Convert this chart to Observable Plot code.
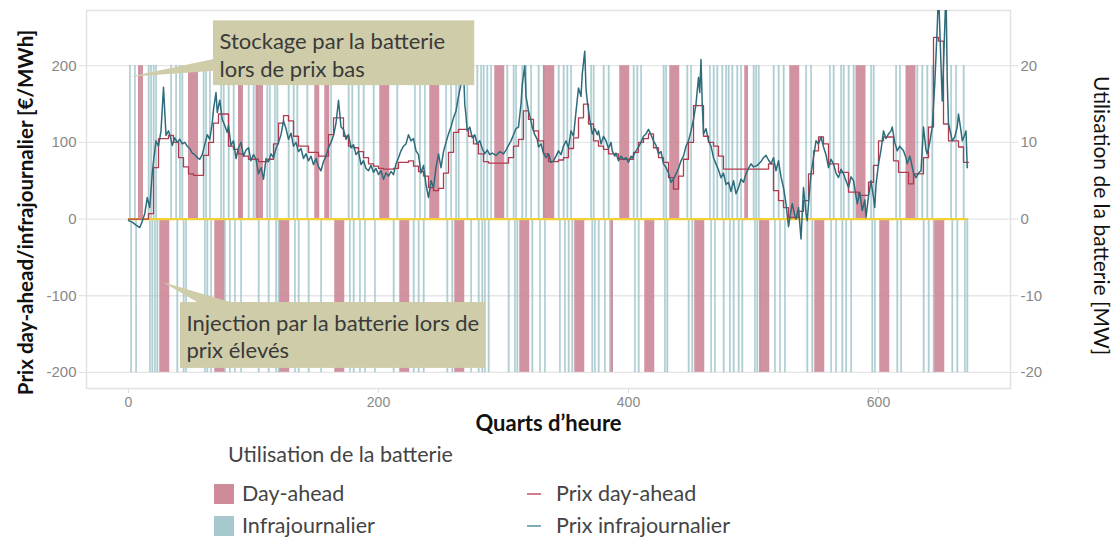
<!DOCTYPE html>
<html>
<head>
<meta charset="utf-8">
<script src="https://cdn.jsdelivr.net/npm/d3@7"></script>
<script src="https://cdn.jsdelivr.net/npm/@observablehq/plot@0.6"></script>
<style>
  html, body { margin: 0; padding: 0; background: #ffffff; }
  #wrap { position: relative; width: 1118px; height: 543px; overflow: hidden; font-family: Lato, "Open Sans", sans-serif; }
  #wrap svg { position: absolute; left: 0; top: 0; }
  .lg { position: absolute; color: #444; font-size: 21.5px; white-space: nowrap; line-height: 1; }
  .sw { position: absolute; width: 20px; height: 20px; }
  .ln { position: absolute; width: 14px; height: 2px; }
</style>
</head>
<body>
<div id="wrap"></div>
<script>
// ---------------- data ----------------
const nQuarters = 672;
const quarterTicks = [0, 200, 400, 600];
const priceTicks = [-200, -100, 0, 100, 200];
const mwTicks = [-20, -10, 0, 10, 20];
const mwToPrice = 10;          // secondary axis: 20 MW shares the 200 €/MWh gridline
const batteryMW = 20;

// Day-ahead price, hourly (€/MWh), 168 hours
const daPrice = [
  0,0,0,0,7,67,105,105,109,100,80,68,59,57,57,83,100,125,137,137,95,91,85,82,
  78,78,75,75,78,98,125,135,128,108,95,95,87,87,82,82,110,132,132,108,95,93,88,80,
  72,69,66,65,65,66,74,74,76,69,62,56,41,37,40,60,87,113,117,117,108,98,85,75,
  73,73,73,73,80,95,104,141,130,115,102,85,75,75,77,80,92,106,132,150,124,102,95,91,
  85,85,78,78,78,87,100,105,111,93,80,74,54,39,56,78,100,148,148,108,100,95,82,65,
  65,65,65,65,65,65,65,65,72,37,24,15,2,2,10,24,59,89,107,98,72,72,61,61,
  35,35,31,31,48,70,102,107,107,76,61,61,46,59,59,80,120,237,232,124,102,102,94,74
];

// Intraday price (€/MWh), read at quarter-hour positions
const idQ = [
  0,3,6,9,11,13,15,17,19,20,22,24,26,28,30,32,34,35,37,39,41,43,45,47,49,51,53,55,57,59,
  61,63,65,67,68,70,71,73,75,77,79,80,82,84,86,88,90,92,94,96,98,100,102,104,106,108,110,112,114,116,
  118,120,122,124,126,128,130,132,134,136,138,140,142,144,146,148,150,152,154,156,158,160,162,164,166,168,170,172,174,176,
  178,180,182,184,186,188,190,192,194,196,198,200,202,204,206,208,210,212,214,216,218,220,222,224,226,228,230,232,234,236,
  238,240,242,244,246,248,250,252,254,256,258,260,262,264,266,268,269,270,271,273,275,277,279,281,283,285,287,289,291,294,
  297,300,302,304,306,308,310,312,314,315,317,318,320,322,323,325,327,328,330,332,334,336,338,340,342,344,346,348,350,352,
  354,356,358,360,362,363,365,366,367,369,371,373,375,376,378,380,382,384,386,387,389,390,392,394,396,398,400,402,403,405,
  408,410,412,414,416,418,420,422,424,426,428,430,432,434,436,438,440,442,444,446,448,450,452,454,456,457,458,459,460,462,
  464,466,468,470,472,474,476,478,480,482,484,486,488,490,492,494,496,498,500,503,506,508,510,512,514,516,518,520,522,524,
  526,528,530,531,533,534,536,538,540,542,543,545,546,548,550,552,554,556,558,560,562,564,566,568,570,572,574,576,578,580,
  582,583,585,587,589,590,592,594,596,597,598,600,602,604,606,608,610,611,613,615,617,620,622,623,625,626,628,630,632,634,
  636,638,639,641,643,645,647,648,650,651,653,654,655,656,658,659,661,663,664,666,667,669,670,671
];
const idPrice = [
  -2,-4,-8,-11,-3,7,28,15,60,75,102,95,115,172,109,115,104,96,106,100,104,98,100,95,92,86,84,80,78,84,
  97,110,104,125,143,165,139,155,130,122,113,122,96,102,79,93,100,82,90,93,76,84,78,59,67,52,79,75,85,80,
  92,100,110,128,118,104,112,95,100,88,92,79,85,76,82,71,79,68,63,75,82,93,100,109,125,155,120,117,104,110,
  93,97,84,88,71,76,66,63,70,61,66,58,63,52,60,56,62,58,72,80,89,95,98,110,102,105,89,84,60,70,
  45,28,50,41,67,85,67,88,100,111,120,132,141,160,176,198,150,135,115,120,106,110,98,102,92,85,90,84,86,83,
  88,85,90,96,102,110,118,120,150,175,200,160,141,128,120,110,104,94,98,86,80,85,74,76,82,89,84,95,102,93,
  115,108,140,171,160,189,219,170,154,130,111,118,110,115,98,108,102,92,100,89,82,86,76,82,78,80,74,82,80,86,
  94,100,108,111,117,110,102,96,85,88,72,67,60,48,52,59,66,76,82,95,102,115,130,150,185,165,208,150,111,118,
  102,95,80,72,64,54,60,45,48,36,50,33,41,52,48,59,66,72,68,70,75,80,83,77,72,80,63,76,55,41,
  20,-10,11,20,5,0,15,-26,41,8,-2,40,59,80,102,98,107,94,84,67,78,72,60,54,65,59,50,41,55,50,
  30,20,35,11,25,2,30,50,28,15,45,72,90,115,105,111,115,120,100,89,95,89,80,72,82,76,60,54,60,63,
  120,90,85,100,120,176,250,300,200,154,250,300,180,124,110,102,107,120,137,115,102,110,115,67
];

// Battery use bought on the day-ahead market: [start, end) in quarter-hours
const daStoreStart = [8, 48, 88, 102, 149, 157, 201, 241, 293, 332, 393, 433, 493, 529, 582, 622];
const daStoreEnd   = [12, 56, 92, 108, 153, 161, 209, 249, 301, 341, 401, 441, 496, 537, 590, 630];
const daInjectStart = [25, 69, 121, 165, 217, 261, 313, 357, 386, 413, 453, 505, 549, 601, 645];
const daInjectEnd   = [33, 77, 129, 173, 225, 269, 321, 365, 388, 421, 461, 513, 557, 609, 653];

// Battery use traded intraday: single quarter-hours
const idStore = [1,5,16,18,20,22,34,38,41,43,60,62,65,74,76,80,84,89,96,100,103,111,113,117,119,128,132,135,143,162,
  176,179,184,188,196,215,229,233,237,254,258,262,264,271,279,282,284,287,290,303,308,310,315,318,322,328,332,
  344,348,351,354,370,372,380,384,404,407,410,428,430,447,450,465,468,471,475,478,480,483,487,490,500,
  502,504,516,520,524,542,546,561,564,570,572,576,580,594,596,614,617,631,635,639,643,658,662,668];
const idInject = [2,6,17,19,21,23,39,44,46,61,63,66,77,81,85,90,104,112,118,120,133,136,144,154,
  177,180,185,189,197,212,228,232,236,255,259,274,280,283,285,288,304,309,311,323,329,333,
  345,349,352,355,371,373,376,381,385,405,408,429,431,448,451,466,469,476,481,484,488,491,501,
  503,505,517,521,525,543,547,562,566,571,574,578,595,597,615,618,636,640,644,659,663,669,671];

// Annotations (data coordinates: quarter-hours, €/MWh)
const noteText = ["Stockage par la batterie\nlors de prix bas", "Injection par la batterie lors de\nprix élevés"];
const noteX1 = [68, 41.6];
const noteX2 = [277, 285.6];
const noteYTop = [258.5, -108.8];
const noteYBottom = [174, -194.8];
const pointerQ = [[0.8, 69, 69], [27.2, 56, 83.2]];
const pointerP = [[185.7, 209.2, 193.5], [-82, -109, -109]];

// Text
const xTitle = "Quarts d’heure";
const yTitle = "Prix day-ahead/infrajournalier [€/MWh]";
const y2Title = "Utilisation de la batterie [MW]";
const legendTitle = "Utilisation de la batterie";
const barLegend = ["Day-ahead", "Infrajournalier"];
const lineLegend = ["Prix day-ahead", "Prix infrajournalier"];

// Colours
const cDA = "#c98090", cID = "#9cc1c7", cDALine = "#b23a4f", cIDLine = "#2e6c7b", cZero = "#f2d137", cNote = "#cfcda9";

// ---------------- tables ----------------
const daTable = daPrice.map((p, h) => ({q: h * 4, p}));
daTable.push({q: nQuarters, p: daPrice[daPrice.length - 1]});
const idTable = idQ.map((q, i) => ({q, p: idPrice[i]}));
const daBands = [
  ...daStoreStart.map((s, i) => ({x1: s, x2: daStoreEnd[i], v: batteryMW})),
  ...daInjectStart.map((s, i) => ({x1: s, x2: daInjectEnd[i], v: -batteryMW}))
];
const idBars = [
  ...idStore.map(q => ({q, v: batteryMW})),
  ...idInject.map(q => ({q, v: -batteryMW}))
];
const notes = noteText.map((t, i) => ({t, x1: noteX1[i], x2: noteX2[i], y1: noteYBottom[i], y2: noteYTop[i]}));
const pointers = pointerQ.flatMap((qs, k) => qs.map((q, j) => ({k, q, p: pointerP[k][j]})));

const tickFont = "'Liberation Sans', Arial, sans-serif";

const chart = Plot.plot({
  width: 1118,
  height: 432,
  marginLeft: 86,
  marginRight: 108,
  marginTop: 10,
  marginBottom: 44,
  x: {domain: [-33.6, 705.6]},
  y: {domain: [-221, 272]},
  style: {fontFamily: "Lato, sans-serif", background: "#ffffff", overflow: "visible"},
  marks: [
    Plot.gridY(priceTicks, {stroke: "#e6e6e6", strokeOpacity: 1, strokeWidth: 1.3}),
    Plot.frame({stroke: "#e2e2e2", strokeWidth: 1.5}),
    Plot.axisX(quarterTicks, {tickSize: 5, tickPadding: 4, stroke: "#dddddd", fill: "#888888", fontSize: 14, fontFamily: tickFont, label: null, tickFormat: d => String(d)}),
    Plot.axisY(priceTicks, {anchor: "left", tickSize: 7, tickPadding: 3, stroke: "#dddddd", fill: "#888888", fontSize: 15, fontFamily: tickFont, label: null, tickFormat: d => String(d)}),
    Plot.axisY(priceTicks, {anchor: "right", tickSize: 7, tickPadding: 3, stroke: "#dddddd", fill: "#888888", fontSize: 15, fontFamily: tickFont, label: null,
      tickFormat: d => String(mwTicks[priceTicks.indexOf(d)])}),
    Plot.rect(idBars, {x1: d => d.q, x2: d => d.q + 1, y1: 0, y2: d => d.v * mwToPrice, fill: cID, stroke: cID, strokeWidth: 0.5, fillOpacity: 0.75, strokeOpacity: 0.75}),
    Plot.rect(daBands, {x1: "x1", x2: "x2", y1: 0, y2: d => d.v * mwToPrice, fill: cDA, fillOpacity: 0.85}),
    Plot.ruleY([0], {x1: 0, x2: nQuarters - 1, stroke: cZero, strokeWidth: 2.2}),
    Plot.line(daTable, {x: "q", y: "p", curve: "step-after", stroke: cDALine, strokeWidth: 1.3, clip: true}),
    Plot.line(idTable, {x: "q", y: "p", stroke: cIDLine, strokeWidth: 1.5, clip: true}),
    Plot.line(pointers, {x: "q", y: "p", z: "k", fill: cNote, stroke: "none"}),
    Plot.rect(notes, {x1: "x1", x2: "x2", y1: "y1", y2: "y2", fill: cNote}),
    Plot.text(notes, {x: "x1", y: "y2", text: "t", textAnchor: "start", lineAnchor: "top", dx: 6, dy: 9, fontSize: 22, lineHeight: 1.25, fill: "#3a3a3a"}),
    Plot.text([xTitle], {frameAnchor: "bottom", textAnchor: "middle", lineAnchor: "middle", dy: 35, fontSize: 22, fontWeight: "bold", fill: "#111"}),
    Plot.text([yTitle], {frameAnchor: "left", textAnchor: "middle", lineAnchor: "middle", dx: -60, dy: 13, rotate: -90, fontSize: 20.5, fontWeight: "bold", fill: "#111"}),
    Plot.text([y2Title], {frameAnchor: "right", textAnchor: "middle", lineAnchor: "middle", dx: 90, dy: 16, rotate: 90, fontSize: 21, fill: "#111"})
  ]
});

const wrap = document.getElementById("wrap");
wrap.appendChild(chart);

// ---------------- legend (HTML, below the SVG) ----------------
function add(cls, css, text) {
  const el = document.createElement("div");
  el.className = cls;
  Object.assign(el.style, css);
  if (text) el.textContent = text;
  wrap.appendChild(el);
}
add("lg", {left: "228px", top: "444px"}, legendTitle);
const rowTop = [484, 516];
const barColors = [cDA, cID];
const lineColors = ["#cf7f8c", "#7fadb6"];
barLegend.forEach((t, i) => {
  add("sw", {left: "214px", top: rowTop[i] + "px", background: barColors[i], opacity: 0.9});
  add("lg", {left: "242px", top: (rowTop[i] - 1) + "px"}, t);
});
lineLegend.forEach((t, i) => {
  add("ln", {left: "527px", top: (rowTop[i] + 9) + "px", background: lineColors[i]});
  add("lg", {left: "556px", top: (rowTop[i] - 1) + "px"}, t);
});
</script>
</body>
</html>
